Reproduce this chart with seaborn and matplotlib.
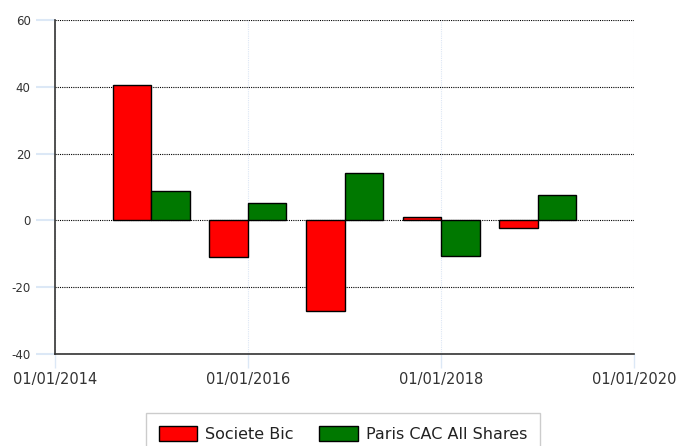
import pandas as pd
import seaborn as sns
import matplotlib.pyplot as plt
import matplotlib.dates as mdates
from matplotlib.patches import Patch

years = ["2015-01-01", "2016-01-01", "2017-01-01", "2018-01-01", "2019-01-01"]
societe_bic = [40.4, -11.0, -27.2, 0.9, -2.2]
paris_cac = [8.7, 5.3, 14.3, -10.7, 7.5]
series_names = ["Societe Bic", "Paris CAC All Shares"]
colors = {"Societe Bic": "#ff0000", "Paris CAC All Shares": "#007800"}

x_ticks = ["2014-01-01", "2016-01-01", "2018-01-01", "2020-01-01"]
x_tick_labels = ["01/01/2014", "01/01/2016", "01/01/2018", "01/01/2020"]
y_ticks = [-40, -20, 0, 20, 40, 60]

x_num = list(mdates.date2num(pd.to_datetime(years)))
df = pd.DataFrame({
    "x": x_num * 2,
    "value": societe_bic + paris_cac,
    "series": [series_names[0]] * len(years) + [series_names[1]] * len(years),
})

sns.set_style("white")
plt.rcParams["font.family"] = ["DejaVu Sans"]
plt.rcParams["axes.unicode_minus"] = False

fig = plt.figure(figsize=(6.78, 4.46), dpi=100)
ax = fig.add_axes([55 / 678, 1 - 354 / 446, (634 - 55) / 678, (354 - 20) / 446])

sns.barplot(data=df, x="x", y="value", hue="series", hue_order=series_names,
            palette=colors, saturation=1, native_scale=True, errorbar=None, legend=False,
            edgecolor="black", linewidth=1, ax=ax, zorder=3)

ax.set_xlim(mdates.date2num(pd.Timestamp(x_ticks[0])), mdates.date2num(pd.Timestamp(x_ticks[-1])))
ax.set_ylim(-40, 60)
ax.set_xticks(mdates.date2num(pd.to_datetime(x_ticks)))
ax.set_xticklabels(x_tick_labels)
ax.set_yticks(y_ticks)
ax.set_xlabel("")
ax.set_ylabel("")

ax.grid(axis="y", color="black", linestyle=(0, (1, 1)), linewidth=0.8, zorder=1)
ax.grid(axis="x", color="#dce6f4", linestyle=(0, (1, 1)), linewidth=0.8, zorder=1)
ax.set_axisbelow(True)

for side in ["top", "right"]:
    ax.spines[side].set_visible(False)
for side in ["left", "bottom"]:
    ax.spines[side].set_color("#333333")
    ax.spines[side].set_linewidth(1.2)
    ax.spines[side].set_zorder(4)

ax.tick_params(axis="y", length=14, width=1.5, color="#dce8f6", pad=3.5,
               labelsize=8.5, labelcolor="#333333", left=True)
ax.tick_params(axis="x", length=10, width=1, color="#dce8f6", pad=3,
               labelsize=10.5, labelcolor="#333333", bottom=True)

handles = [Patch(facecolor=colors[s], edgecolor="black", linewidth=1, label=s) for s in series_names]
leg = fig.legend(handles=handles, loc="upper center", bbox_to_anchor=(343 / 678, 1 - 413 / 446),
                 ncol=2, fontsize=11.5, frameon=True, fancybox=False, framealpha=1,
                 edgecolor="#cccccc", handlelength=2.4, handleheight=1.1,
                 handletextpad=0.5, columnspacing=1.6, borderpad=0.8, borderaxespad=0)
leg.get_frame().set_linewidth(1)
for t in leg.get_texts():
    t.set_color("#222222")

fig.savefig("out.png", dpi=100)
